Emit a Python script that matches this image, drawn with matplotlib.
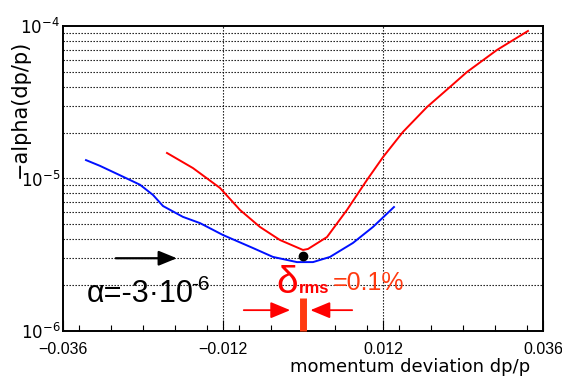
import matplotlib
matplotlib.use("Agg")
import matplotlib.pyplot as plt
from matplotlib.ticker import MultipleLocator, LogLocator, FixedLocator

# blue curve (alpha = -3e-6)
blue_x = [-0.03255, -0.03045, -0.02745, -0.02445, -0.0225, -0.021, -0.018, -0.01545,
          -0.012, -0.0075, -0.0045, -0.0009, 0.0015, 0.00405, 0.0075, 0.0105, 0.01365]
blue_y = [1.32e-5, 1.21e-5, 1.05e-5, 9.1e-6, 7.8e-6, 6.6e-6, 5.6e-6, 5.1e-6,
          4.26e-6, 3.5e-6, 3.06e-6, 2.83e-6, 2.83e-6, 3.06e-6, 3.78e-6, 4.81e-6, 6.5e-6]

# red curve
red_x = [-0.0204, -0.0165, -0.01245, -0.00945, -0.00645, -0.00345, 0.0, 0.00075,
         0.0036, 0.0066, 0.0096, 0.012, 0.015, 0.0186, 0.02205, 0.0246, 0.0291, 0.03375]
red_y = [1.47e-5, 1.17e-5, 8.67e-6, 6.22e-6, 4.81e-6, 3.95e-6, 3.40e-6, 3.45e-6,
         4.13e-6, 6.22e-6, 9.78e-6, 1.38e-5, 2.02e-5, 2.94e-5, 3.98e-5, 4.99e-5, 6.96e-5, 9.27e-5]

dot_x, dot_y = 0.0, 3.1e-6
alpha_level = 3e-6

x_ticks = [-0.036, -0.012, 0.012, 0.036]
x_tick_labels = ["\u22120.036", "\u22120.012", "0.012", "0.036"]

RED = "#ff0000"
ORANGE = "#ff3a10"

fig = plt.figure(figsize=(5.62, 3.78), dpi=100)
ax = fig.add_axes([0.1121, 0.1243, 0.854, 0.807])

ax.set_xlim(-0.036, 0.036)
ax.set_yscale("log")
ax.set_ylim(1e-6, 1e-4)

# grid
for y in [m * 10.0**e for e in (-6, -5) for m in range(2, 11)][:-1]:
    ax.axhline(y, color="black", lw=0.8, ls=(0, (1.2, 1.5)), zorder=1)
for x in (-0.012, 0.012):
    ax.axvline(x, color="black", lw=0.8, ls=(0, (1.2, 1.5)), zorder=1)

ax.plot(blue_x, blue_y, color="#0010ff", lw=1.4, zorder=3)
ax.plot(red_x, red_y, color="#ff0000", lw=1.4, zorder=3)
ax.plot(dot_x, dot_y, "o", color="black", ms=6, zorder=4)

# black arrow at alpha level
ax.annotate("", xy=(-0.0185, alpha_level), xytext=(-0.0285, alpha_level),
            arrowprops=dict(arrowstyle="-|>,head_length=1.1,head_width=0.45",
                            color="black", lw=1.6))
ax.text(-0.0325, 1.55e-6, "α=-3·10", fontsize=22, color="black",
        family="Liberation Sans", va="baseline")
ax.text(-0.0168, 1.86e-6, "-6", fontsize=15, color="black",
        family="Liberation Sans", va="baseline")

# delta_rms annotation
ax.text(-0.0040, 1.77e-6, "δ", fontsize=28, color=RED,
        family="Liberation Sans", va="baseline")
ax.text(-0.0006, 1.77e-6, "rms", fontsize=12, color=RED, weight="bold",
        family="Liberation Sans", va="baseline")
ax.text(0.0044, 1.86e-6, "=0.1%", fontsize=18, color=ORANGE,
        family="Liberation Sans", va="baseline")
ax.annotate("", xy=(-0.0015, 1.37e-6), xytext=(-0.0093, 1.37e-6),
            arrowprops=dict(arrowstyle="-|>,head_length=1.2,head_width=0.5",
                            color=RED, lw=1.3))
ax.annotate("", xy=(0.0007, 1.37e-6), xytext=(0.0078, 1.37e-6),
            arrowprops=dict(arrowstyle="-|>,head_length=1.2,head_width=0.5",
                            color=RED, lw=1.3))
ax.plot([0.0, 0.0], [1.0e-6, 1.65e-6], color=ORANGE, lw=5, solid_capstyle="butt",
        zorder=5, clip_on=False)

# ticks
ax.xaxis.set_major_locator(FixedLocator(x_ticks))
ax.xaxis.set_minor_locator(MultipleLocator(0.0048))
ax.set_xticklabels(x_tick_labels, family="Liberation Sans", fontsize=11.5)
ax.tick_params(axis="x", which="major", direction="in", length=8, width=0.8,
               pad=8, top=False)
ax.tick_params(axis="x", which="minor", direction="in", length=4, width=0.8, top=False)
ax.yaxis.set_major_locator(LogLocator(base=10, numticks=5))
ax.yaxis.set_minor_locator(LogLocator(base=10, subs=range(2, 10), numticks=10))
ax.tick_params(axis="y", which="both", direction="in", length=0, labelsize=12, pad=2)
for s in ax.spines.values():
    s.set_linewidth(1.4)

fig.text(530 / 562, 1 - 367 / 378, "momentum deviation dp/p", fontsize=13,
         ha="right", va="center")
fig.text(20 / 562, 1 - 40 / 378, "\u2212alpha(dp/p)", fontsize=15,
         rotation=90, ha="center", va="top")

fig.savefig("out.png", dpi=100)
